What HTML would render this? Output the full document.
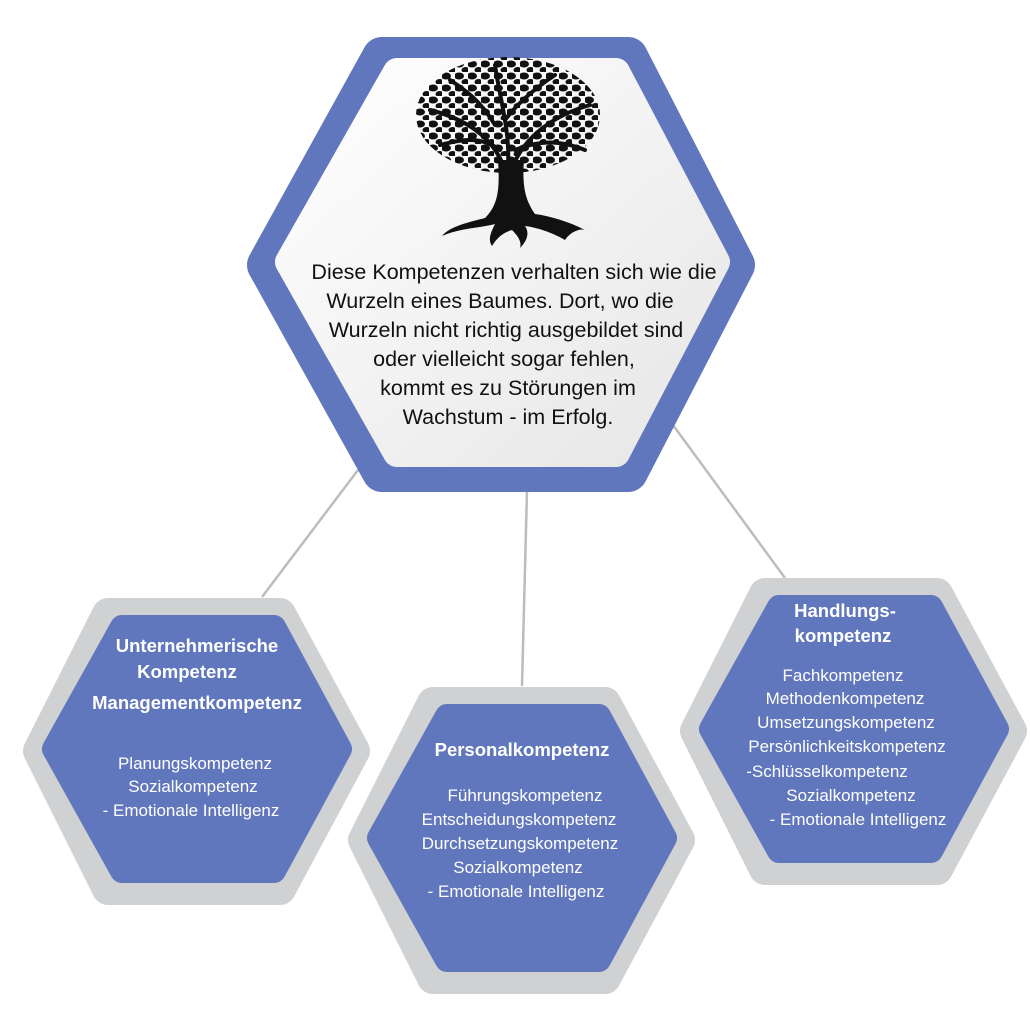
<!DOCTYPE html>
<html><head><meta charset="utf-8"><style>
html,body{margin:0;padding:0;background:#fff;}
svg{display:block}
.t{font-family:"Liberation Sans",sans-serif;font-size:21.5px;fill:#111;text-anchor:middle}
.w{font-family:"Liberation Sans Narrow","Liberation Sans",sans-serif;font-size:17px;fill:#fff;text-anchor:middle}
.b{font-weight:bold;font-size:18.5px}
</style></head><body>
<svg width="1030" height="1030" viewBox="0 0 1030 1030" xmlns="http://www.w3.org/2000/svg">
<defs>
<linearGradient id="g" x1="0" y1="0" x2="1" y2="1"><stop offset="0" stop-color="#ffffff"/><stop offset="1" stop-color="#e6e6e6"/></linearGradient>
<pattern id="lv" width="13" height="12" patternUnits="userSpaceOnUse">
<ellipse cx="4" cy="4" rx="5" ry="3.5" fill="#111"/>
<ellipse cx="10.5" cy="10" rx="4" ry="3" fill="#111"/>
</pattern>
</defs>
<g stroke="#bdbdbd" stroke-width="2.5">
<line x1="358" y1="470" x2="262" y2="597"/>
<line x1="527" y1="490" x2="522" y2="686"/>
<line x1="673" y1="425" x2="785" y2="578"/>
</g>
<!-- top -->
<polygon points="267,265 382,57 628,57 735,265 628,472 382,472" fill="#6177bd" stroke="#6177bd" stroke-width="40" stroke-linejoin="round"/>
<polygon points="289,262 397,72 616,72 716,262 616,453 397,453" fill="url(#g)" stroke="url(#g)" stroke-width="28" stroke-linejoin="round"/>
<!-- tree -->
<ellipse cx="508" cy="115" rx="92" ry="58" fill="url(#lv)"/>
<g fill="none" stroke="#111" stroke-width="4" stroke-linecap="round">
<path d="M505,170 C495,140 470,120 430,110"/>
<path d="M508,165 C510,130 500,100 495,65"/>
<path d="M512,168 C525,135 555,115 590,105"/>
<path d="M500,150 C480,135 460,140 440,145"/>
<path d="M515,150 C540,140 560,140 585,150"/>
<path d="M505,120 C520,100 540,85 555,75"/>
<path d="M495,125 C480,100 465,90 450,80"/>
</g>
<path fill="#111" d="M498,160 C500,190 498,205 485,218 C470,222 450,226 442,236 C460,228 480,228 495,224 C490,234 488,240 492,246 C498,236 505,232 512,230 C518,236 522,242 520,248 C530,238 528,230 525,226 C540,228 555,234 565,240 C570,232 580,228 585,230 C570,222 550,216 535,214 C525,200 522,185 524,160 Z"/>
<g class="t">
<text x="514" y="279">Diese Kompetenzen verhalten sich wie die</text>
<text x="500" y="308">Wurzeln eines Baumes. Dort, wo die</text>
<text x="506" y="337">Wurzeln nicht richtig ausgebildet sind</text>
<text x="504" y="366">oder vielleicht sogar fehlen,</text>
<text x="508" y="395">kommt es zu Störungen im</text>
<text x="508" y="424">Wachstum - im Erfolg.</text>
</g>
<!-- left -->
<g>
<polygon points="39,751 108,614 280,614 354,751 280,889 108,889" fill="#d0d1d3" stroke="#d0d1d3" stroke-width="32" stroke-linejoin="round"/>
<polygon points="54,749 122,627 274,627 340,749 274,871 122,871" fill="#6177bd" stroke="#6177bd" stroke-width="24" stroke-linejoin="round"/>
</g>
<g transform="translate(325,89)">
<polygon points="39,751 108,614 280,614 354,751 280,889 108,889" fill="#d0d1d3" stroke="#d0d1d3" stroke-width="32" stroke-linejoin="round"/>
<polygon points="54,749 122,627 274,627 340,749 274,871 122,871" fill="#6177bd" stroke="#6177bd" stroke-width="24" stroke-linejoin="round"/>
</g>
<g transform="translate(657,-20)">
<polygon points="39,751 108,614 280,614 354,751 280,889 108,889" fill="#d0d1d3" stroke="#d0d1d3" stroke-width="32" stroke-linejoin="round"/>
<polygon points="54,749 122,627 274,627 340,749 274,871 122,871" fill="#6177bd" stroke="#6177bd" stroke-width="24" stroke-linejoin="round"/>
</g>
<g class="w">
<text class="b" x="197" y="652">Unternehmerische</text>
<text class="b" x="187" y="678">Kompetenz</text>
<text class="b" x="197" y="709">Managementkompetenz</text>
<text x="195" y="769">Planungskompetenz</text>
<text x="193" y="792">Sozialkompetenz</text>
<text x="191" y="816">- Emotionale Intelligenz</text>
<text class="b" x="522" y="756">Personalkompetenz</text>
<text x="525" y="801">Führungskompetenz</text>
<text x="519" y="825">Entscheidungskompetenz</text>
<text x="520" y="849">Durchsetzungskompetenz</text>
<text x="518" y="873">Sozialkompetenz</text>
<text x="516" y="897">- Emotionale Intelligenz</text>
<text class="b" x="845" y="617">Handlungs-</text>
<text class="b" x="843" y="642">kompetenz</text>
<text x="843" y="681">Fachkompetenz</text>
<text x="845" y="704">Methodenkompetenz</text>
<text x="846" y="728">Umsetzungskompetenz</text>
<text x="847" y="752">Persönlichkeitskompetenz</text>
<text x="827" y="777">-Schlüsselkompetenz</text>
<text x="851" y="801">Sozialkompetenz</text>
<text x="858" y="825">- Emotionale Intelligenz</text>
</g>
</svg>
</body></html>
